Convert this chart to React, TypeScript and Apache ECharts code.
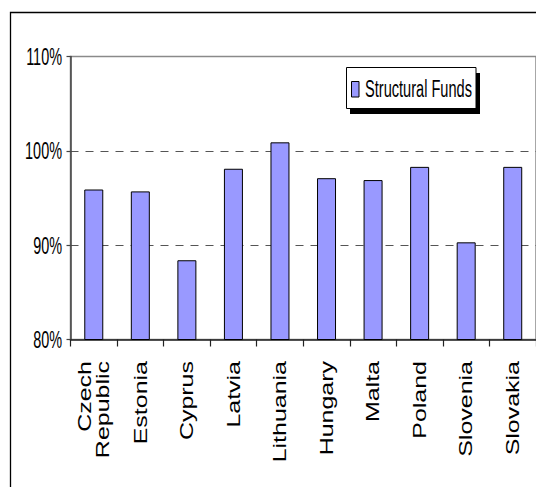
import React, { useEffect, useRef } from "react";
import * as echarts from "echarts";

// Member states shown along the category axis
const countries = [
  "Czech\nRepublic",
  "Estonia",
  "Cyprus",
  "Latvia",
  "Lithuania",
  "Hungary",
  "Malta",
  "Poland",
  "Slovenia",
  "Slovakia",
];

// Structural Funds, in percent
const structuralFunds = [95.9, 95.7, 88.4, 98.1, 100.9, 97.1, 96.9, 98.3, 90.3, 98.3];

// Value-axis ticks, in percent
const yTicks = [80, 90, 100, 110];

const seriesName = "Structural Funds";

const FONT = "'Liberation Sans', Arial, Helvetica, sans-serif";

export default function App() {
  const ref = useRef<HTMLDivElement>(null);

  useEffect(() => {
    document.body.style.margin = "0";
    const chart = echarts.init(ref.current as HTMLDivElement, null, { renderer: "svg" });

    chart.setOption({
      animation: false,
      grid: {
        left: 70.5,
        top: 56.5,
        width: 471,
        height: 283,
        show: true,
        borderColor: "#8a8a8a",
        borderWidth: 1.5,
        backgroundColor: "transparent",
      },
      xAxis: {
        type: "category",
        data: countries,
        axisLine: { lineStyle: { color: "#222", width: 1.5 } },
        axisTick: { show: true, length: 7, interval: 0, lineStyle: { color: "#222", width: 1.2 } },
        axisLabel: { show: false },
        splitLine: { show: false },
      },
      yAxis: {
        type: "value",
        min: yTicks[0],
        max: yTicks[yTicks.length - 1],
        interval: 10,
        axisLine: { show: true, lineStyle: { color: "#444", width: 1.5 } },
        axisTick: { show: true, length: 4, lineStyle: { color: "#444", width: 1.2 } },
        axisLabel: { show: false },
        splitLine: {
          show: true,
          showMinLine: false,
          showMaxLine: false,
          lineStyle: { type: [8, 7], color: "#555", width: 1.2 },
        },
      },
      series: [
        {
          type: "bar",
          name: seriesName,
          data: structuralFunds,
          barWidth: 19,
          itemStyle: { color: "#9999FF", borderColor: "#000", borderWidth: 1 },
        },
      ],
    });

    // Tick labels placed at the axis positions, drawn with stretched glyphs
    const xLabels = countries.map((name, i) => {
      const px = chart.convertToPixel({ xAxisIndex: 0 }, i) as number;
      return {
        type: "text",
        x: px,
        y: 361,
        rotation: Math.PI / 2,
        scaleX: 1.35,
        scaleY: 1,
        style: {
          text: name,
          fontSize: 18.5,
          fontFamily: FONT,
          lineHeight: 18,
          fill: "#000",
          align: "right",
          verticalAlign: "middle",
          textAlign: "right",
          textVerticalAlign: "middle",
        },
      };
    });

    const yLabels = yTicks.map((v) => {
      const py = chart.convertToPixel({ yAxisIndex: 0 }, v) as number;
      return {
        type: "text",
        x: 62,
        y: py,
        scaleX: 0.82,
        scaleY: 1.38,
        style: {
          text: `${v}%`,
          fontSize: 17.6,
          fontFamily: FONT,
          fill: "#000",
          align: "right",
          verticalAlign: "middle",
          textAlign: "right",
          textVerticalAlign: "middle",
        },
      };
    });

    const legend = [
      {
        type: "rect",
        shape: { x: 350, y: 73, width: 130, height: 41 },
        style: { fill: "#000" },
      },
      {
        type: "rect",
        shape: { x: 346.5, y: 67.5, width: 129.5, height: 41 },
        style: { fill: "#fff", stroke: "#000", lineWidth: 1 },
      },
      {
        type: "rect",
        shape: { x: 351.5, y: 81.5, width: 7.5, height: 15.5 },
        style: { fill: "#9999FF", stroke: "#000", lineWidth: 1 },
      },
      {
        type: "text",
        x: 365,
        y: 88.5,
        scaleX: 0.82,
        scaleY: 1.37,
        style: {
          text: seriesName,
          fontSize: 17.8,
          fontFamily: FONT,
          fill: "#000",
          align: "left",
          verticalAlign: "middle",
          textAlign: "left",
          textVerticalAlign: "middle",
        },
      },
    ];

    chart.setOption({
      graphic: [
        {
          type: "rect",
          shape: { x: 10.5, y: 12.5, width: 540, height: 490 },
          style: { fill: "none", stroke: "#000", lineWidth: 1.3 },
        },
        ...legend,
        ...xLabels,
        ...yLabels,
      ],
    });

    return () => {
      chart.dispose();
    };
  }, []);

  return <div ref={ref} style={{ width: 536, height: 487, display: "block" }} />;
}
